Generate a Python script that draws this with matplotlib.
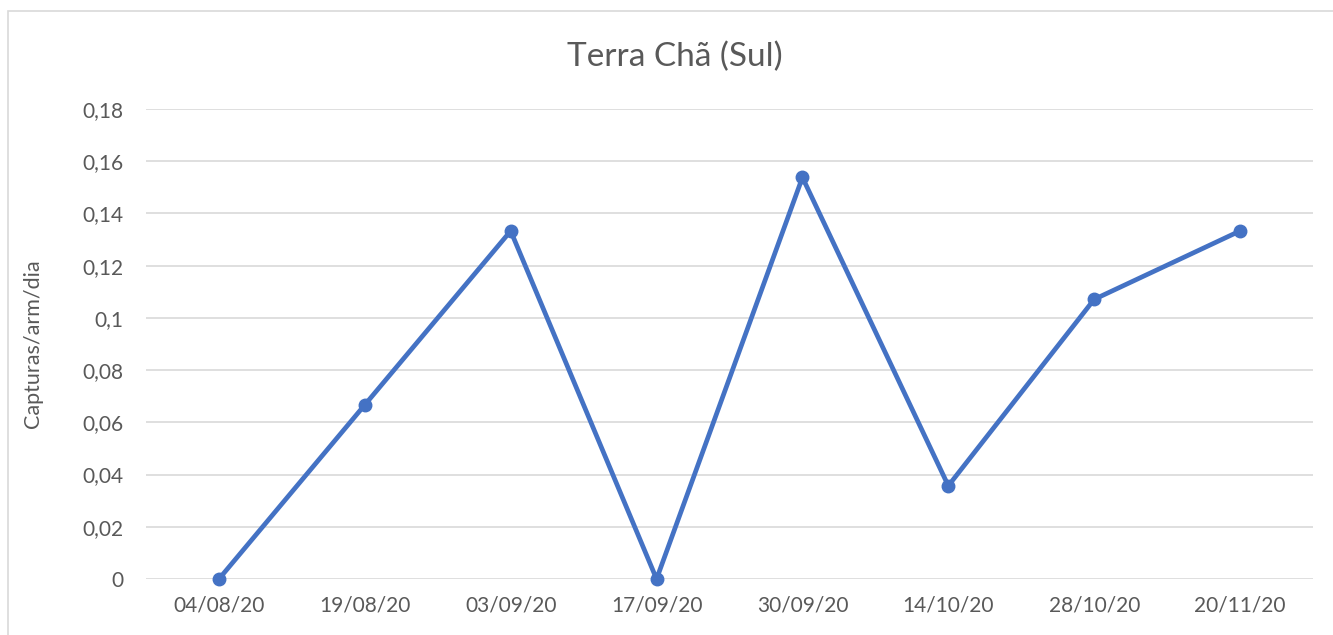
import matplotlib.pyplot as plt
from matplotlib.patches import Rectangle

datas = ["04/08/20", "19/08/20", "03/09/20", "17/09/20",
         "30/09/20", "14/10/20", "28/10/20", "20/11/20"]
capturas = [0, 0.0667, 0.1333, 0, 0.1538, 0.0357, 0.1071, 0.1333]
yticks = [0, 0.02, 0.04, 0.06, 0.08, 0.10, 0.12, 0.14, 0.16, 0.18]
ytick_labels = ["0", "0,02", "0,04", "0,06", "0,08", "0,1", "0,12", "0,14", "0,16", "0,18"]

W, H = 1333, 635
plt.rcParams["font.family"] = ["Lato", "DejaVu Sans"]
fig = plt.figure(figsize=(W / 100, H / 100), dpi=100)

## chart frame (cut off at right/bottom in the original)
fig.patches.append(Rectangle((8 / W, -0.1), 1.2, (H - 11) / H + 0.1, transform=fig.transFigure,
                             fill=False, edgecolor="#D9D9D9", linewidth=1.2))

## plot area in pixels: x 146..1313, y 109..579
ax = fig.add_axes([146 / W, 1 - 579 / H, (1313 - 146) / W, (579 - 109) / H])
x = list(range(len(datas)))
ax.plot(x, capturas, color="#4472C4", linewidth=3.4, marker="o", markersize=9,
        solid_capstyle="round", zorder=3, clip_on=False)

ax.set_xlim(-0.5, len(datas) - 0.5)
ax.set_ylim(0, 0.18)
ax.set_xticks(x)
ax.set_xticklabels(datas)
ax.set_yticks(yticks)
ax.set_yticklabels(ytick_labels)
ax.tick_params(length=0, labelsize=15, colors="#595959", pad=12)
ax.tick_params(axis="y", pad=16)
ax.grid(axis="y", color="#D9D9D9", linewidth=1.2)
ax.set_axisbelow(True)
for s in ax.spines.values():
    s.set_visible(False)

ax.set_ylabel("Capturas/arm/dia", fontsize=15.5, color="#595959")
ax.yaxis.set_label_coords(-(146 - 43) / (1313 - 146), 0.5)
fig.text(675 / W, 1 - 57 / H, "Terra Chã (Sul)", fontsize=24, color="#595959",
         ha="center", va="center")

fig.savefig("out.png", dpi=100)
